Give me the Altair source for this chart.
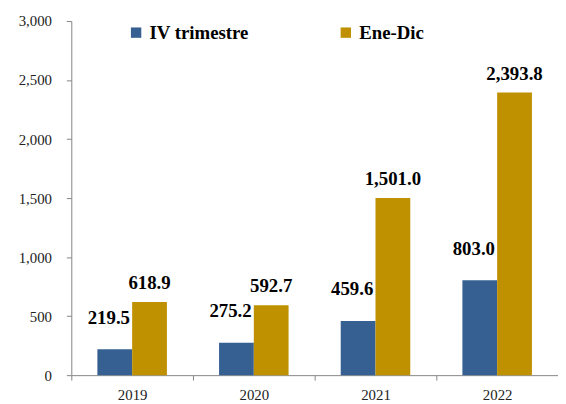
import altair as alt
import pandas as pd

years = ["2019", "2020", "2021", "2022"]
iv_trimestre = [219.5, 275.2, 459.6, 803.0]
ene_dic = [618.9, 592.7, 1501.0, 2393.8]
series_names = ["IV trimestre", "Ene-Dic"]
colors = ["#376092", "#BF9000"]
y_ticks = [0, 500, 1000, 1500, 2000, 2500, 3000]

rows = []
for yr, a, b in zip(years, iv_trimestre, ene_dic):
    rows.append({"year": yr, "series": series_names[0], "value": a})
    rows.append({"year": yr, "series": series_names[1], "value": b})
df = pd.DataFrame(rows)

FONT = "Liberation Serif"
AXC = "#868686"

x = alt.X("year:N", sort=years,
          scale=alt.Scale(paddingInner=0, paddingOuter=0),
          axis=alt.Axis(title=None, labelAngle=0, tickBand="extent", labelPadding=8,
                        labelFontSize=15))
xo = alt.XOffset("series:N", sort=series_names,
                 scale=alt.Scale(domain=series_names, paddingInner=0, paddingOuter=0.75))
y = alt.Y("value:Q", scale=alt.Scale(domain=[0, 3000], nice=False),
          axis=alt.Axis(values=y_ticks, format=",.0f", grid=False, title=None,
                        labelPadding=15, labelFontSize=15))
color = alt.Color("series:N", sort=series_names,
                  scale=alt.Scale(domain=series_names, range=colors),
                  legend=alt.Legend(title=None, orient="none", legendX=56, legendY=2,
                                    direction="horizontal", symbolType="square",
                                    symbolSize=110, symbolStrokeWidth=0,
                                    labelFont=FONT, labelFontSize=19,
                                    labelFontWeight="bold", labelColor="#000000",
                                    labelOffset=4, columnPadding=88, labelLimit=300))

base = alt.Chart(df)
bars = base.mark_bar().encode(x=x, xOffset=xo, y=y, color=color)

lab_iv = base.transform_filter(alt.datum.series == series_names[0]).mark_text(
    font=FONT, fontSize=19, fontWeight="bold", baseline="alphabetic",
    dx=-6, dy=-26, color="#000000"
).encode(x=x, xOffset=xo, y=y, text=alt.Text("value:Q", format=",.1f"))

lab_ed = base.transform_filter(alt.datum.series == series_names[1]).mark_text(
    font=FONT, fontSize=19, fontWeight="bold", baseline="alphabetic",
    dy=-13, color="#000000"
).encode(x=x, xOffset=xo, y=y, text=alt.Text("value:Q", format=",.1f"))

chart = alt.layer(bars, lab_iv, lab_ed).properties(
    width=492, height=358,
    autosize=alt.AutoSizeParams(type="none"),
    padding={"left": 64, "top": 11, "right": 0, "bottom": 27},
).configure_view(stroke=None).configure_axis(
    domainColor=AXC, tickColor=AXC, tickSize=5, labelFont=FONT,
    labelColor="#222222", domainWidth=1, tickWidth=1
)

chart.save("out.html", embed_options={"renderer": "svg", "actions": False})
